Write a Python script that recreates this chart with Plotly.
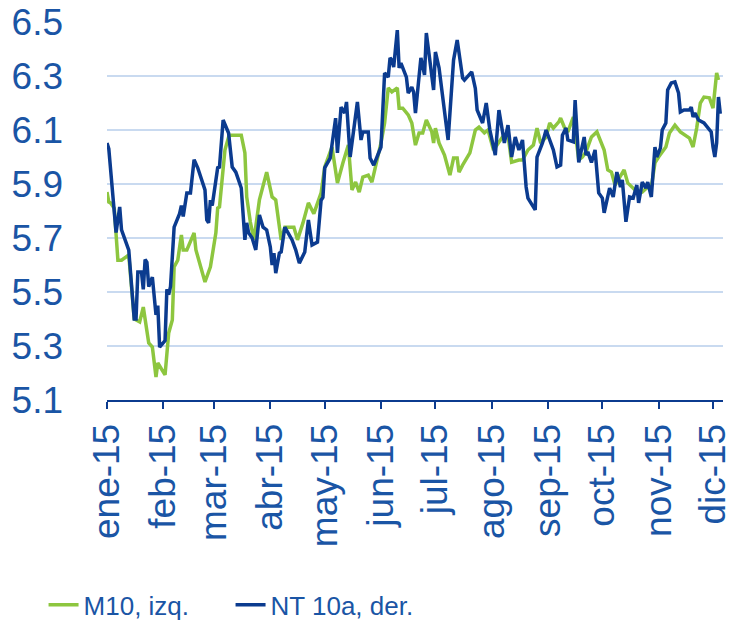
import pandas as pd
import plotly.graph_objects as go

# days since 2015-01-01 and values
m10_days = [0, 1, 2, 4, 6, 8, 12, 15, 18, 20, 23, 25, 27, 28, 32, 34, 36, 37, 39, 41, 42, 44, 48, 49,
            54, 57, 60, 61, 62, 65, 67, 68, 74, 76, 77, 79, 81, 84, 88, 91, 93, 96, 98, 103, 105, 108,
            111, 114, 118, 120, 124, 127, 130, 133, 135, 137, 139, 141, 144, 146, 151, 153, 155, 157,
            160, 161, 163, 166, 168, 170, 172, 174, 176, 179, 180, 181, 183, 186, 189, 191, 193, 194,
            196, 200, 203, 205, 208, 210, 213, 218, 221, 223, 227, 229, 232, 235, 237, 239, 242, 244,
            246, 249, 250, 252, 254, 257, 260, 262, 264, 267, 270, 274, 276, 278, 280, 283, 285, 287,
            291, 295, 298, 300, 302, 304, 306, 308, 310, 313, 316, 319, 321, 323, 325, 327, 329, 332,
            334, 336, 337]
m10_vals = [5.87, 5.833, 5.83, 5.81, 5.618, 5.618, 5.637, 5.40, 5.389, 5.444, 5.311, 5.296, 5.185,
            5.237, 5.193, 5.348, 5.396, 5.593, 5.618, 5.711, 5.656, 5.656, 5.719, 5.656, 5.537, 5.593,
            5.719, 5.811, 5.815, 6.026, 6.074, 6.081, 6.081, 6.015, 5.852, 5.759, 5.693, 5.841, 5.944,
            5.852, 5.841, 5.693, 5.74, 5.74, 5.693, 5.756, 5.83, 5.79, 5.867, 5.963, 6.037, 5.904,
            5.978, 6.044, 5.878, 5.907, 5.87, 5.926, 5.933, 5.907, 6.052, 6.126, 6.256, 6.241, 6.256,
            6.181, 6.181, 6.156, 6.126, 6.044, 6.089, 6.089, 6.137, 6.093, 6.052, 6.107, 6.052, 6.007,
            5.933, 5.996, 5.996, 5.944, 5.97, 6.015, 6.1, 6.111, 6.089, 6.1, 6.026, 6.074, 6.081, 5.981,
            5.989, 5.989, 6.026, 6.044, 6.107, 6.052, 6.074, 6.126, 6.107, 6.13, 6.144, 6.111, 6.093,
            6.148, 5.989, 6.0, 6.019, 6.074, 6.093, 6.026, 5.952, 5.944, 5.896, 5.933, 5.952, 5.904,
            5.878, 5.870, 5.889, 5.889, 5.978, 6.0, 6.019, 6.037, 6.089, 6.118, 6.093, 6.081, 6.07,
            6.037, 6.107, 6.2, 6.222, 6.219, 6.181, 6.311, 6.285]

nt_days = [0, 1, 5, 7, 8, 12, 15, 16, 17, 19, 20, 21, 22, 23, 25, 27, 28, 29, 32, 33, 34, 35, 37, 40,
           41, 42, 44, 46, 48, 50, 54, 55, 56, 57, 58, 61, 62, 64, 67, 69, 71, 74, 76, 77, 78, 80, 82,
           84, 86, 88, 90, 91, 92, 93, 95, 96, 98, 102, 104, 106, 109, 111, 113, 116, 118, 119, 120,
           123, 126, 127, 129, 131, 132, 134, 138, 140, 141, 144, 145, 147, 151, 152, 153, 155, 156,
           157, 158, 160, 161, 162, 165, 166, 168, 169, 170, 173, 175, 176, 178, 180, 181, 183, 188,
           191, 193, 196, 197, 201, 203, 204, 207, 209, 211, 214, 216, 219, 221, 223, 225, 227, 229,
           231, 232, 236, 237, 240, 242, 244, 246, 248, 250, 251, 253, 254, 257, 258, 260, 263, 264,
           265, 267, 269, 271, 273, 274, 277, 279, 281, 283, 284, 286, 288, 290, 292, 293, 295, 297,
           298, 300, 302, 303, 305, 306, 308, 309, 311, 313, 315, 316, 318, 321, 322, 323, 324, 326,
           329, 333, 334, 335, 336, 337, 338]
nt_vals = [6.052, 6.03, 5.72, 5.815, 5.73, 5.655, 5.40, 5.40, 5.574, 5.574, 5.51, 5.62, 5.61, 5.52,
           5.555, 5.415, 5.45, 5.296, 5.32, 5.51, 5.49, 5.52, 5.74, 5.79, 5.82, 5.78, 5.867, 5.867,
           5.99, 5.96, 5.878, 5.767, 5.756, 5.84, 5.82, 5.96, 5.963, 6.137, 6.089, 5.963, 5.944,
           5.885, 5.693, 5.756, 5.72, 5.70, 5.656, 5.785, 5.74, 5.73, 5.667, 5.6, 5.644, 5.57, 5.644,
           5.648, 5.74, 5.693, 5.656, 5.607, 5.648, 5.767, 5.674, 5.685, 5.84, 5.85, 5.96, 5.996,
           6.144, 6.015, 6.185, 6.163, 6.204, 6.0, 6.204, 6.063, 6.093, 6.093, 5.996, 5.97, 6.037,
           6.148, 6.311, 6.296, 6.367, 6.359, 6.333, 6.47, 6.33, 6.348, 6.296, 6.237, 6.259, 6.24,
           6.163, 6.367, 6.304, 6.459, 6.359, 6.248, 6.389, 6.33, 6.063, 6.359, 6.433, 6.293, 6.285,
           6.315, 6.254, 6.174, 6.126, 6.2, 6.1, 6.007, 6.174, 6.052, 6.118, 6.0, 6.074, 6.026, 6.063,
           5.889, 5.848, 5.804, 6.0, 6.052, 6.1, 6.063, 6.026, 5.963, 5.97, 6.081, 6.107, 6.063, 6.056,
           6.211, 5.98, 6.074, 6.007, 6.019, 5.98, 6.026, 5.867, 5.848, 5.793, 5.885, 5.852, 5.944,
           5.889, 5.915, 5.76, 5.852, 5.848, 5.896, 5.83, 5.907, 5.885, 5.907, 5.852, 6.037, 6.0,
           6.033, 6.1, 6.126, 6.248, 6.274, 6.278, 6.237, 6.167, 6.174, 6.174, 6.185, 6.148, 6.163,
           6.137, 6.126, 6.093, 6.037, 6.0, 6.052, 6.222, 6.16]

month_starts = ["2015-01-01", "2015-02-01", "2015-03-01", "2015-04-01", "2015-05-01", "2015-06-01",
                "2015-07-01", "2015-08-01", "2015-09-01", "2015-10-01", "2015-11-01", "2015-12-01"]
month_labels = ["ene-15", "feb-15", "mar-15", "abr-15", "may-15", "jun-15",
                "jul-15", "ago-15", "sep-15", "oct-15", "nov-15", "dic-15"]
y_ticks = [5.1, 5.3, 5.5, 5.7, 5.9, 6.1, 6.3, 6.5]

base = pd.Timestamp("2015-01-01")
m10_dates = [base + pd.Timedelta(days=d) for d in m10_days]
nt_dates = [base + pd.Timedelta(days=d) for d in nt_days]

GREEN = "#8DC63F"
NAVY = "#0B3B8F"
TXT = "#1A55A5"

fig = go.Figure()
fig.add_trace(go.Scatter(x=m10_dates, y=m10_vals, mode="lines", name="M10, izq.",
                         line=dict(color=GREEN, width=3.5)))
fig.add_trace(go.Scatter(x=nt_dates, y=nt_vals, mode="lines", name="NT 10a, der.",
                         line=dict(color=NAVY, width=3.5)))

fig.update_layout(
    width=738, height=623,
    margin=dict(l=107, r=15, t=22, b=223, autoexpand=False),
    plot_bgcolor="white", paper_bgcolor="white",
    font=dict(family="Liberation Sans, Arial, sans-serif", color=TXT),
    showlegend=True,
    legend=dict(orientation="h", x=-0.103, y=-0.542, xanchor="left", yanchor="middle",
                font=dict(size=26, color=TXT), entrywidth=142, entrywidthmode="pixels",
                bgcolor="rgba(0,0,0,0)", traceorder="normal"),
)
fig.update_xaxes(
    type="date", range=["2015-01-01", "2015-12-06 12:00"],
    tickvals=month_starts, ticktext=month_labels, tickangle=-90,
    tickfont=dict(size=37, color=TXT), ticklabeloverflow="allow",
    showgrid=False, showline=True, linecolor=NAVY, linewidth=2,
    ticks="outside", ticklen=7, tickwidth=2, tickcolor=NAVY, automargin=False,
)
fig.update_yaxes(
    range=[5.1, 6.5], tickvals=y_ticks, tickformat=".1f",
    tickfont=dict(size=37, color=TXT), ticklabeloverflow="allow",
    showgrid=True, gridcolor="#C9DAF0", gridwidth=2,
    showline=False, zeroline=False, ticks="", ticklabelstandoff=43, automargin=False,
)

fig.write_html("out.html", config={"displayModeBar": False},
               post_script="document.body.style.margin='0';document.body.style.overflow='hidden';")
